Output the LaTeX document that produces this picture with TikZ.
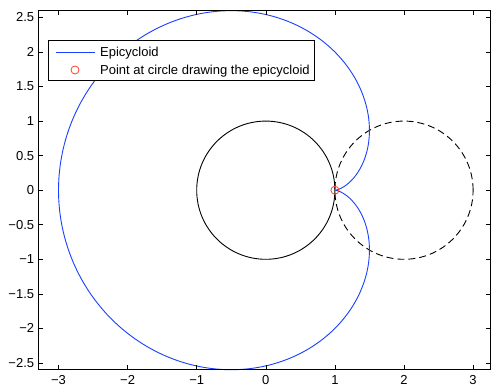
\documentclass[tikz,border=0pt]{standalone}
\usepackage{fontspec}
\setmainfont{Liberation Sans}
\definecolor{mblue}{rgb}{0.1,0.25,1}
\definecolor{mred}{rgb}{1,0.25,0.15}
\begin{document}
\begin{tikzpicture}[x=1pt,y=1pt,
  lbl/.style={inner sep=0pt, font=\fontsize{13pt}{15pt}\selectfont},
  axisline/.style={line width=1pt, black},
  curve/.style={line width=0.9pt},
  markerc/.style={circle, draw=mred, line width=0.8pt, minimum size=8pt, inner sep=0pt}]
\useasboundingbox (0,0) rectangle (492,390);
\fill[white] (0,0) rectangle (492,390);
\begin{scope}[shift={(265.8pt,199.8pt)}, x=69.1pt, y=69.1pt]
  \coordinate (BL) at (-3.296,-2.598);
  \coordinate (TR) at (3.252,2.598);
  % curves
  \draw[curve, black] (0,0) circle (1);
  \draw[curve, black, dash pattern=on 7pt off 4pt] (2,0) circle (1);
  \draw[curve, mblue] plot[domain=0:360, samples=240, smooth, variable=\t]
     ({2*cos(\t)-cos(2*\t)},{2*sin(\t)-sin(2*\t)});
  \node[markerc] (pt) at (1,0) {};
  % ticks
  \foreach \i in {-3,...,3} {
    \draw[axisline, line width=0.6pt] (\i,-2.598) -- ++(0,4.5pt);
    \draw[axisline, line width=0.6pt] (\i,2.598) -- ++(0,-4.5pt);
    \node[lbl, anchor=north] (xl\i) at ([yshift=-6pt]\i,-2.598)
      {\ifnum\i<0 −\number\numexpr-\i\relax\else\i\fi};
  }
  \foreach \v/\s in {-2.5/−2.5,-2/−2,-1.5/−1.5,-1/−1,-0.5/−0.5,0/0,0.5/0.5,1/1,1.5/1.5,2/2,2.5/2.5} {
    \draw[axisline, line width=0.6pt] (-3.296,\v) -- ++(4.5pt,0);
    \draw[axisline, line width=0.6pt] (3.252,\v) -- ++(-4.5pt,0);
    \node[lbl, anchor=east] (yl\s) at ([xshift=-3.7pt]-3.296,\v) {\s};
  }
  \draw[axisline] (BL) rectangle (TR);
\end{scope}
% legend
\draw[fill=white, line width=0.8pt] (48.3,349.3) rectangle (314,310);
\coordinate (la) at (56,337.7);
\coordinate (lb) at (95,337.7);
\draw[curve, mblue] (la) -- (lb);
\node[lbl, anchor=base west] (t1) at (100,333) {Epicycloid};
\node[markerc] (lm) at (75,320) {};
\node[lbl, anchor=base west] (t2) at (100,315) {Point at circle drawing the epicycloid};
\end{tikzpicture}
\end{document}
